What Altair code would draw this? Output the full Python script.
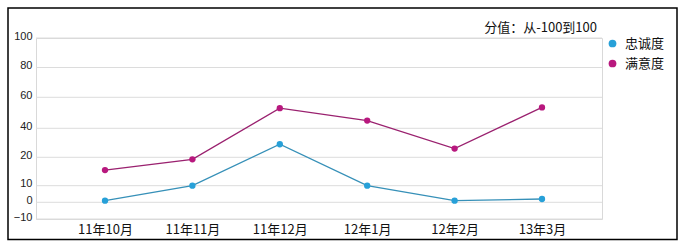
import altair as alt
import pandas as pd

months = ["11年10月", "11年11月", "11年12月", "12年1月", "12年2月", "13年3月"]
loyalty = [1, 10, 29, 10, 1, 2]
satisfaction = [15.5, 19.3, 53, 45, 26, 53.5]
series_names = ["忠诚度", "满意度"]
y_ticks = [-10, 0, 10, 20, 40, 60, 80, 100]
title_text = "分值：从-100到100"

rows = []
for m, a, b in zip(months, loyalty, satisfaction):
    rows.append({"month": m, "series": series_names[0], "value": a})
    rows.append({"month": m, "series": series_names[1], "value": b})
df = pd.DataFrame(rows)

W, H = 566, 181
# non-uniform vertical axis as in the original (pixel position of each tick value)
y_range = [181, 164.3, 147.7, 119.3, 90.3, 59.3, 29.5, 0]

CJK = "Noto Sans CJK SC"

y_scale = alt.Scale(domain=y_ticks, range=y_range, nice=False, zero=False)
y_axis = alt.Axis(values=y_ticks, title=None, ticks=False, domain=False, grid=False,
                  labelFontSize=11, labelFont="Liberation Sans", labelColor="#222",
                  labelPadding=4, labelOffset=-2)

x_enc = alt.X(
    "month:N",
    sort=months,
    scale=alt.Scale(type="point", range=[69, 506], padding=0),
    axis=alt.Axis(title=None, labelAngle=0, ticks=False, domain=False, grid=False,
                  labelFontSize=13, labelFont=CJK, labelColor="#111", labelPadding=4),
)
y_enc = alt.Y("value:Q", scale=y_scale, axis=y_axis)

grid = alt.Chart(pd.DataFrame({"v": y_ticks})).mark_rule(
    color="#dcdcdc", strokeWidth=1
).encode(y=alt.Y("v:Q", scale=y_scale, axis=y_axis))

base = alt.Chart(df)

lines = base.mark_line(strokeWidth=1.3).encode(
    x=x_enc, y=y_enc,
    stroke=alt.Stroke("series:N",
                      scale=alt.Scale(domain=series_names, range=["#3690b8", "#9a216f"]),
                      legend=None),
)

points = base.mark_circle(size=40, opacity=1).encode(
    x=x_enc, y=y_enc,
    fill=alt.Fill("series:N",
                  scale=alt.Scale(domain=series_names, range=["#27a0d8", "#b8187e"]),
                  legend=alt.Legend(title=None, orient="none", legendX=570, legendY=-1,
                                    symbolType="circle", symbolSize=60, symbolStrokeWidth=0,
                                    labelFontSize=13, labelFont=CJK, labelColor="#111",
                                    rowPadding=6, padding=0, labelOffset=6)),
)

title = alt.Chart(pd.DataFrame({"t": [title_text]})).mark_text(
    align="right", baseline="middle", fontSize=13, font=CJK, color="#111"
).encode(x=alt.value(561), y=alt.value(-10), text="t:N")

frame = alt.Chart(pd.DataFrame({"a": [0]})).mark_rect(
    filled=False, stroke="black", strokeWidth=1.5
).encode(x=alt.value(-28), x2=alt.value(641), y=alt.value(-30), y2=alt.value(201.5))

chart = alt.layer(grid, lines, points, title, frame).resolve_scale(
    stroke="independent", fill="independent"
).properties(
    width=W, height=H,
    padding={"left": 36, "top": 38, "right": 84, "bottom": 30},
    autosize=alt.AutoSizeParams(type="none"),
    background="white",
).configure_view(stroke="#d9d9d9")

chart.save("out.html", embed_options={"renderer": "svg", "actions": False})
